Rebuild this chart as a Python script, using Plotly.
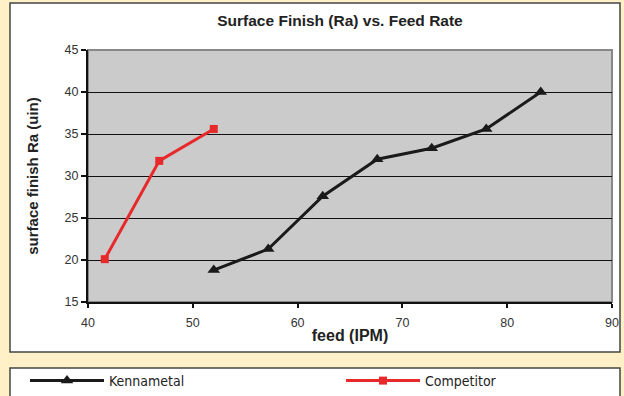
import plotly.graph_objects as go

# Data
kenna_feed = [52.0, 57.2, 62.4, 67.6, 72.8, 78.0, 83.2]
kenna_ra = [18.8, 21.3, 27.6, 32.0, 33.3, 35.6, 40.0]
comp_feed = [41.6, 46.8, 52.0]
comp_ra = [20.1, 31.8, 35.6]

title_text = "Surface Finish (Ra) vs. Feed Rate"
x_title = "feed (IPM)"
y_title = "surface finish Ra (uin)"

W, H = 624, 396
L, R, T, B = 88, 12, 50, 94
pw, ph = W - L - R, H - T - B

def px_x(px):
    return (px - L) / pw

def px_y(py):
    return (H - B - py) / ph

fig = go.Figure()
fig.add_trace(go.Scatter(
    x=kenna_feed, y=kenna_ra, name="Kennametal", mode="lines+markers",
    line=dict(color="#1a1a1a", width=3),
    marker=dict(symbol="triangle-up", size=11, color="#1a1a1a"),
    legend="legend",
))
fig.add_trace(go.Scatter(
    x=comp_feed, y=comp_ra, name="Competitor", mode="lines+markers",
    line=dict(color="#e8292b", width=3),
    marker=dict(symbol="square", size=8, color="#e8292b"),
    legend="legend2",
))

shapes = [
    # chart box
    dict(type="rect", xref="paper", yref="paper",
         x0=px_x(10), x1=px_x(620), y0=px_y(352), y1=px_y(3),
         line=dict(color="#444444", width=1.5), fillcolor="white", layer="below"),
    # legend box
    dict(type="rect", xref="paper", yref="paper",
         x0=px_x(10), x1=px_x(620), y0=px_y(410), y1=px_y(368),
         line=dict(color="#444444", width=1.5), fillcolor="white", layer="below"),
    # plot area border
    dict(type="rect", xref="paper", yref="paper", x0=0, x1=1, y0=0, y1=1,
         line=dict(color="#888888", width=2), fillcolor="#cbcbcb", layer="below"),
]

leg_font = dict(family="Liberation Sans Narrow, DejaVu Sans Condensed, Liberation Sans", size=14, color="#222222")

fig.update_layout(
    width=W, height=H,
    margin=dict(l=L, r=R, t=T, b=B, pad=0, autoexpand=False),
    paper_bgcolor="#fff0c8",
    plot_bgcolor="rgba(0,0,0,0)",
    shapes=shapes,
    title=dict(text="<b>" + title_text + "</b>", x=px_x(340), xref="paper", xanchor="center",
               y=1 - 21 / H, yanchor="middle",
               font=dict(family="Liberation Sans, Arial", size=15.5, color="#222222")),
    font=dict(family="Liberation Sans, Arial", color="#333333"),
    showlegend=True,
    legend=dict(orientation="h", x=px_x(25), y=px_y(381), xanchor="left", yanchor="middle",
                xref="paper", yref="paper", bgcolor="rgba(0,0,0,0)",
                font=leg_font, itemwidth=74),
    legend2=dict(orientation="h", x=px_x(341), y=px_y(381), xanchor="left", yanchor="middle",
                 xref="paper", yref="paper", bgcolor="rgba(0,0,0,0)",
                 font=leg_font, itemwidth=74),
)
fig.update_xaxes(
    range=[40, 90], dtick=10, tick0=40, showgrid=False, zeroline=False,
    showline=True, linecolor="#111111", linewidth=2,
    ticks="outside", ticklen=4, tickcolor="#111111", tickwidth=1.5,
    ticklabelstandoff=4,
    tickfont=dict(size=12.5, color="#333333"),
    title=dict(text="<b>" + x_title + "</b>", font=dict(size=16, color="#222222"), standoff=1),
)
fig.update_yaxes(
    range=[15, 45], dtick=5, tick0=15, showgrid=True, gridcolor="#111111", gridwidth=1,
    zeroline=False, showline=True, linecolor="#111111", linewidth=2,
    ticks="outside", ticklen=5, tickcolor="#111111", tickwidth=1.5,
    tickfont=dict(size=12.5, color="#333333"),
    title=dict(text="<b>" + y_title + "</b>", font=dict(size=15, color="#222222"), standoff=22),
)

fig.write_html("out.html", config={"displayModeBar": False},
               post_script="document.body.style.margin='0';document.body.style.background='#fff0c8';")
